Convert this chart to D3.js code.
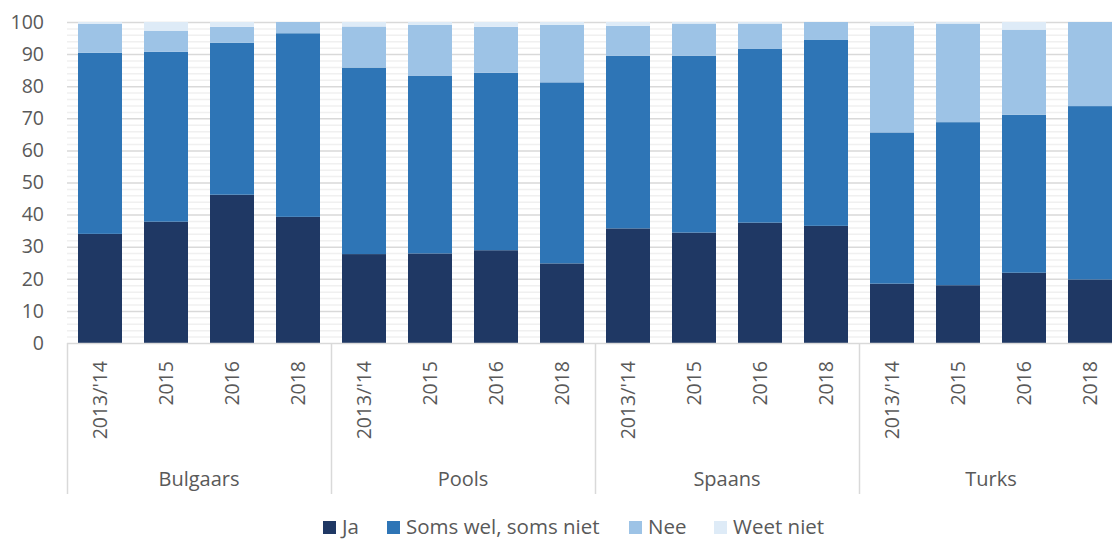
<!DOCTYPE html>
<html>
<head>
<meta charset="utf-8">
<script src="https://cdn.jsdelivr.net/npm/d3@7"></script>
<style>
  html, body { margin: 0; padding: 0; background: #fff; }
  svg { display: block; font-family: "Open Sans", sans-serif; }
</style>
</head>
<body>
<svg id="chart" width="1112" height="540"></svg>
<script>
// Stacked 100% bars per language group and survey year

const groups = ["Bulgaars", "Pools", "Spaans", "Turks"];
const years = ["2013/'14", "2015", "2016", "2018"];
const seriesNames = ["Ja", "Soms wel, soms niet", "Nee", "Weet niet"];
const seriesColors = ["#1f3864", "#2e75b6", "#9dc3e6", "#deebf7"];

// values per bar, order: Bulgaars x4, Pools x4, Spaans x4, Turks x4
const ja = [34.0, 37.8, 46.2, 39.3, 27.7, 27.9, 28.9, 24.8, 35.7, 34.4, 37.5, 36.5, 18.5, 18.0, 21.9, 19.8];
const soms = [56.4, 52.9, 47.3, 57.2, 58.1, 55.4, 55.3, 56.4, 53.8, 55.1, 54.1, 57.9, 47.1, 50.8, 49.2, 54.0];
const nee = [9.0, 6.5, 5.0, 3.5, 12.8, 15.8, 14.3, 17.9, 9.3, 10.0, 7.9, 5.6, 33.2, 30.7, 26.5, 26.2];
const weetNiet = [0.6, 2.8, 1.5, 0.0, 1.4, 0.9, 1.5, 0.9, 1.2, 0.5, 0.5, 0.0, 1.2, 0.5, 2.4, 0.0];

const yTicks = [0, 10, 20, 30, 40, 50, 60, 70, 80, 90, 100];

const rows = [];
groups.forEach((g, gi) => {
  years.forEach((yr, yi) => {
    const i = gi * years.length + yi;
    rows.push({ key: g + "|" + yr, group: g, year: yr, s0: ja[i], s1: soms[i], s2: nee[i], s3: weetNiet[i] });
  });
});

const svg = d3.select("#chart");
const plotLeft = 67, plotTop = 22, plotBottom = 343;
const plotRight = 1112;

const x = d3.scaleBand()
  .domain(rows.map((d) => d.key))
  .range([plotLeft, plotLeft + rows.length * 66])
  .paddingInner(1 / 3)
  .paddingOuter(1 / 6);

const y = d3.scaleLinear().domain([0, 100]).range([plotBottom, plotTop]);

// gridlines: minor every 2, major every 10
const grid = svg.append("g");
grid.selectAll("line.minor")
  .data(d3.range(0, 101, 2).filter((v) => v % 10 !== 0))
  .enter().append("line")
  .attr("x1", plotLeft).attr("x2", plotRight)
  .attr("y1", (d) => y(d) + 0.5).attr("y2", (d) => y(d) + 0.5)
  .attr("stroke", "#f0f0f0").attr("stroke-width", 1.5);
grid.selectAll("line.major")
  .data(yTicks.filter((v) => v > 0))
  .enter().append("line")
  .attr("x1", plotLeft).attr("x2", plotRight)
  .attr("y1", (d) => y(d) + 0.5).attr("y2", (d) => y(d) + 0.5)
  .attr("stroke", "#d9d9d9").attr("stroke-width", 1.5);

// stacked bars
const stack = d3.stack().keys(["s0", "s1", "s2", "s3"]);
const layers = stack(rows);

svg.append("g").selectAll("g")
  .data(layers)
  .enter().append("g")
  .attr("fill", (d, i) => seriesColors[i])
  .selectAll("rect")
  .data((d) => d)
  .enter().append("rect")
  .attr("x", (d) => x(d.data.key))
  .attr("width", x.bandwidth())
  .attr("y", (d) => y(d[1]))
  .attr("height", (d) => Math.max(0, y(d[0]) - y(d[1])));

// y axis labels (no axis line)
const yAxis = svg.append("g")
  .attr("transform", `translate(${plotLeft},0)`)
  .call(d3.axisLeft(y).tickValues(yTicks).tickSize(0).tickPadding(23));
yAxis.select(".domain").remove();
yAxis.selectAll("text")
  .attr("font-family", "Open Sans, sans-serif")
  .attr("font-size", 19.5)
  .attr("fill", "#595959");

// category axis line
svg.append("line")
  .attr("x1", plotLeft).attr("x2", plotRight)
  .attr("y1", plotBottom + 0.5).attr("y2", plotBottom + 0.5)
  .attr("stroke", "#d9d9d9").attr("stroke-width", 1.5);

// group separators
const groupEdges = d3.range(groups.length + 1).map((i) => plotLeft + i * years.length * x.step());
svg.append("g").selectAll("line")
  .data(groupEdges)
  .enter().append("line")
  .attr("x1", (d) => d + 0.5).attr("x2", (d) => d + 0.5)
  .attr("y1", plotBottom).attr("y2", 494)
  .attr("stroke", "#d9d9d9").attr("stroke-width", 1.5);

// year labels, rotated
svg.append("g").selectAll("text")
  .data(rows)
  .enter().append("text")
  .attr("transform", (d) => `translate(${x(d.key) + x.bandwidth() / 2 + 7},361) rotate(-90)`)
  .attr("text-anchor", "end")
  .attr("font-size", 19.5)
  .attr("fill", "#595959")
  .text((d) => d.year);

// group labels
svg.append("g").selectAll("text")
  .data(groups)
  .enter().append("text")
  .attr("x", (d, i) => (groupEdges[i] + groupEdges[i + 1]) / 2)
  .attr("y", 486)
  .attr("text-anchor", "middle")
  .attr("font-size", 20)
  .attr("fill", "#595959")
  .text((d) => d);

// legend
const legendX = [323, 387, 629, 714];
const legend = svg.append("g");
seriesNames.forEach((name, i) => {
  legend.append("rect")
    .attr("x", legendX[i]).attr("y", 521)
    .attr("width", 13).attr("height", 13)
    .attr("fill", seriesColors[i]);
  legend.append("text")
    .attr("x", legendX[i] + 19).attr("y", 534)
    .attr("font-size", 20.5)
    .attr("fill", "#595959")
    .text(name);
});
</script>
</body>
</html>
